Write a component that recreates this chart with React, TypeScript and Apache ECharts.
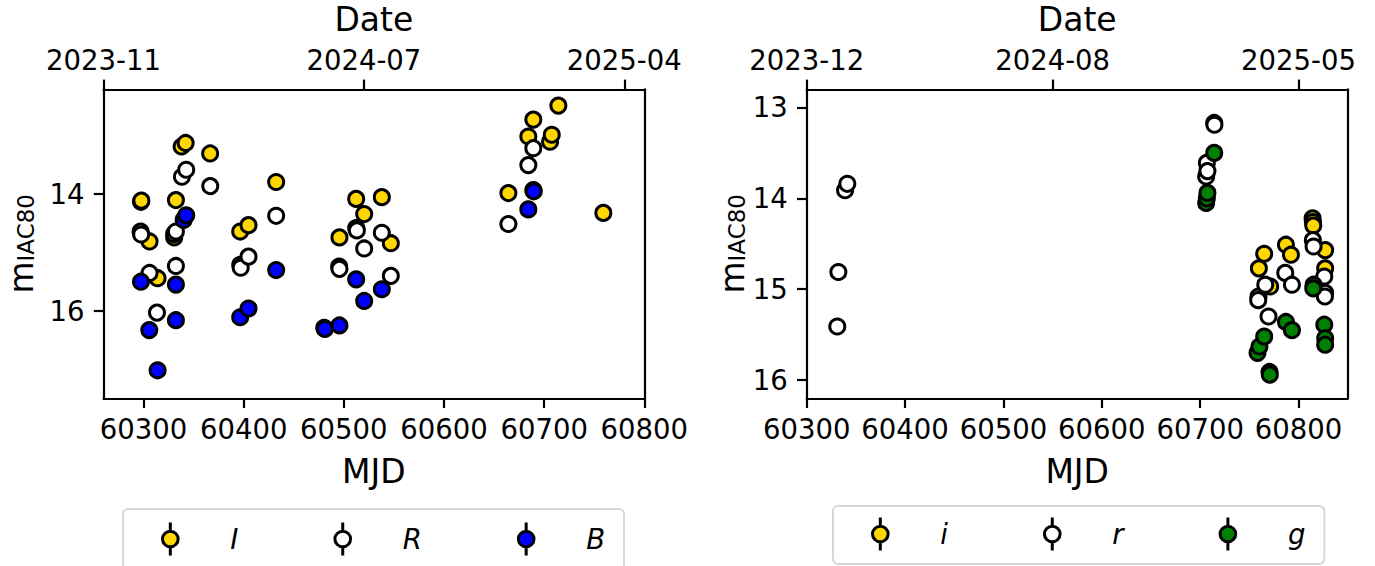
import React, { useEffect, useRef } from "react";
import * as echarts from "echarts";

const FONT = "DejaVu Sans";

// ---- Left panel: Johnson I, R, B photometry ----
const mjdI = [60297.4, 60297.8, 60306.0, 60314.0, 60330.6, 60332.3, 60338.0, 60342.0, 60366.5, 60396.5, 60404.8, 60432.4, 60495.6, 60512.3, 60520.3, 60537.9, 60546.9, 60664.3, 60684.2, 60689.2, 60705.9, 60707.6, 60714.2, 60759.1];
const magI = [14.13, 14.11, 14.81, 15.44, 14.74, 14.10, 13.18, 13.12, 13.30, 14.64, 14.53, 13.79, 14.74, 14.08, 14.34, 14.05, 14.84, 13.98, 13.01, 12.72, 13.10, 12.98, 12.48, 14.32];

const mjdR = [60297.0, 60297.6, 60306.0, 60313.4, 60330.5, 60332.3, 60332.3, 60338.3, 60342.6, 60366.6, 60396.5, 60397.0, 60404.8, 60432.4, 60495.3, 60495.6, 60512.3, 60513.0, 60520.3, 60537.9, 60546.9, 60664.3, 60684.2, 60689.2];
const magR = [14.64, 14.69, 15.35, 16.03, 14.68, 14.64, 15.23, 13.70, 13.58, 13.86, 15.21, 15.26, 15.07, 14.37, 15.24, 15.28, 14.58, 14.62, 14.93, 14.66, 15.40, 14.51, 13.50, 13.21];

const mjdB = [60297.4, 60305.7, 60314.0, 60332.3, 60332.3, 60340.0, 60342.6, 60396.5, 60404.8, 60432.4, 60480.4, 60481.0, 60495.6, 60512.3, 60520.3, 60537.9, 60684.2, 60689.2, 60689.6];
const magB = [15.50, 16.33, 17.02, 15.55, 16.16, 14.44, 14.36, 16.11, 15.96, 15.30, 16.29, 16.31, 16.25, 15.46, 15.83, 15.63, 14.26, 13.93, 13.95];

// ---- Right panel: Sloan i, r, g photometry ----
const mjdi = [60759.7, 60765.1, 60771.2, 60787.2, 60792.3, 60814.3, 60814.6, 60815.0, 60827.1, 60827.1];
const magi = [14.77, 14.61, 14.97, 14.51, 14.62, 14.22, 14.26, 14.30, 14.57, 14.77];

const mjdr = [60331.1, 60332.2, 60339.0, 60341.3, 60706.1, 60706.8, 60707.4, 60714.3, 60714.5, 60759.3, 60759.0, 60766.2, 60769.5, 60786.5, 60793.3, 60814.6, 60815.3, 60826.2, 60827.1, 60826.8];
const magr = [15.41, 14.81, 13.91, 13.84, 13.76, 13.61, 13.70, 13.17, 13.19, 15.08, 15.12, 14.95, 15.30, 14.82, 14.95, 14.46, 14.53, 14.86, 15.04, 15.08];

const mjdg = [60706.1, 60706.8, 60707.4, 60714.3, 60758.3, 60760.3, 60765.1, 60770.5, 60770.8, 60787.2, 60793.3, 60815.3, 60815.0, 60826.2, 60827.1, 60827.1];
const magg = [14.05, 14.00, 13.94, 13.50, 15.70, 15.63, 15.52, 15.91, 15.94, 15.36, 15.45, 14.95, 14.99, 15.39, 15.54, 15.61];

// ---- Axis ticks ----
const mjdTicksLeft = [60300, 60400, 60500, 60600, 60700, 60800];
const mjdTicksRight = [60300, 60400, 60500, 60600, 60700, 60800];
const dateTickMjdLeft = [60260, 60520, 60780];
const dateTickLabelsLeft = ["2023-11", "2024-07", "2025-04"];
const dateTickMjdRight = [60300, 60550, 60800];
const dateTickLabelsRight = ["2023-12", "2024-08", "2025-05"];
const magTicksLeft = [14, 16];
const magTicksRight = [13, 14, 15, 16];

const bandsLeft = [
  { name: "I", color: "#FFD700", mjd: mjdI, mag: magI },
  { name: "R", color: "#FFFFFF", mjd: mjdR, mag: magR },
  { name: "B", color: "#0000FF", mjd: mjdB, mag: magB },
];
const bandsRight = [
  { name: "i", color: "#FFD700", mjd: mjdi, mag: magi },
  { name: "r", color: "#FFFFFF", mjd: mjdr, mag: magr },
  { name: "g", color: "#008000", mjd: mjdg, mag: magg },
];

// circle with vertical error-bar stems, used as the legend handle
const ERRBAR_ICON =
  "path://M10,0L10,10 M1,19A9,9,0,1,1,19,19A9,9,0,1,1,1,19Z M10,28L10,38";

const TICK_FONT = 27.5;
const NAME_FONT = 33;
const LINE_W = 2.2;

const axisLine = { show: true, onZero: false, lineStyle: { color: "#000", width: LINE_W } };
const tick = (vals: number[]) => ({
  show: true,
  length: 9.7,
  lineStyle: { color: "#000", width: LINE_W },
  customValues: vals,
});
const label = (vals: number[], fmt?: (v: number) => string, margin = 17) => ({
  show: true,
  customValues: vals,
  color: "#000",
  fontFamily: FONT,
  fontSize: TICK_FONT,
  margin,
  formatter: fmt ?? ((v: number) => String(v)),
});
const dateFormatter = (vals: number[], labels: string[]) => (v: number) => {
  const idx = vals.findIndex((t) => Math.abs(t - v) < 1e-6);
  return idx >= 0 ? labels[idx] : "";
};

const nameStyle = { fontFamily: FONT, fontSize: NAME_FONT, color: "#000" };
const magName = "{m|m}{s|IAC80}";
const magNameStyle = {
  rich: {
    m: { fontFamily: FONT, fontSize: NAME_FONT, color: "#000" },
    s: { fontFamily: FONT, fontSize: 23, color: "#000", verticalAlign: "bottom" },
  },
};

function panelAxes(
  gi: number,
  xMin: number,
  xMax: number,
  xTicks: number[],
  dVals: number[],
  dLabels: string[],
  yMin: number,
  yMax: number,
  yTicks: number[],
  yNameGap: number
) {
  const x = [
    {
      type: "value",
      gridIndex: gi,
      position: "bottom",
      min: xMin,
      max: xMax,
      axisLine,
      axisTick: tick(xTicks),
      axisLabel: label(xTicks),
      splitLine: { show: false },
      name: "MJD",
      nameLocation: "middle",
      nameGap: 57,
      nameTextStyle: nameStyle,
    },
    {
      type: "value",
      gridIndex: gi,
      position: "top",
      min: xMin,
      max: xMax,
      axisLine,
      axisTick: tick(dVals),
      axisLabel: label(dVals, dateFormatter(dVals, dLabels), 15),
      splitLine: { show: false },
      name: "Date",
      nameLocation: "middle",
      nameGap: 53,
      nameTextStyle: nameStyle,
    },
  ];
  const y = [
    {
      type: "value",
      gridIndex: gi,
      position: "left",
      inverse: true,
      min: yMin,
      max: yMax,
      axisLine,
      axisTick: tick(yTicks),
      axisLabel: label(yTicks, undefined, 19),
      splitLine: { show: false },
      name: magName,
      nameLocation: "middle",
      nameGap: yNameGap,
      nameTextStyle: magNameStyle,
    },
    {
      type: "value",
      gridIndex: gi,
      position: "right",
      inverse: true,
      min: yMin,
      max: yMax,
      axisLine,
      axisTick: { show: false },
      axisLabel: { show: false },
      splitLine: { show: false },
    },
  ];
  return { x, y };
}

function legendFor(bands: typeof bandsLeft, left: number, top: number, padTop: number) {
  return {
    data: bands.map((b) => ({ name: b.name, icon: ERRBAR_ICON })),
    orient: "horizontal",
    left,
    top,
    itemWidth: 24,
    itemHeight: 33,
    itemGap: 95,
    padding: [padTop, 19, 12, 38],
    backgroundColor: "#fff",
    borderColor: "#d6d6d6",
    borderWidth: 2,
    borderRadius: 5,
    selectedMode: false,
    itemStyle: { borderColor: "#000", borderWidth: 3 },
    textStyle: {
      fontFamily: FONT,
      fontSize: TICK_FONT,
      fontStyle: "italic",
      color: "#000",
      padding: [0, 0, 0, 43],
    },
  };
}

export default function App() {
  const ref = useRef<HTMLDivElement>(null);

  useEffect(() => {
    if (!ref.current) return;
    const chart = echarts.init(ref.current, undefined, { renderer: "svg" });

    const left = panelAxes(0, 60260, 60800, mjdTicksLeft, dateTickMjdLeft, dateTickLabelsLeft, 12.2, 17.5, magTicksLeft, 66);
    const right = panelAxes(1, 60300, 60850, mjdTicksRight, dateTickMjdRight, dateTickLabelsRight, 12.8, 16.2, magTicksRight, 57);

    const mkSeries = (bands: typeof bandsLeft, xi: number, yi: number) =>
      bands.map((b, k) => ({
        type: "scatter",
        name: b.name,
        xAxisIndex: xi,
        yAxisIndex: yi,
        symbol: "circle",
        symbolSize: 15,
        z: 2 + k,
        itemStyle: { color: b.color, borderColor: "#000", borderWidth: 3, opacity: 1 },
        emphasis: { disabled: true },
        data: b.mjd.map((m, i) => [m, b.mag[i]]),
      }));

    chart.setOption({
      animation: false,
      backgroundColor: "#fff",
      grid: [
        { left: 103.5, top: 89.3, width: 540.8, height: 309, outerBoundsMode: "none" },
        { left: 806.7, top: 89.3, width: 541, height: 309, outerBoundsMode: "none" },
      ],
      xAxis: [...left.x, ...right.x],
      yAxis: [...left.y, ...right.y],
      legend: [legendFor(bandsLeft, 123, 509, 12), legendFor(bandsRight, 833, 506, 10)],
      series: [...mkSeries(bandsLeft, 0, 0), ...mkSeries(bandsRight, 2, 2)],
    });

    return () => chart.dispose();
  }, []);

  return (
    <div
      ref={ref}
      style={{ position: "absolute", left: 0, top: 0, width: 1375, height: 566 }}
    />
  );
}
